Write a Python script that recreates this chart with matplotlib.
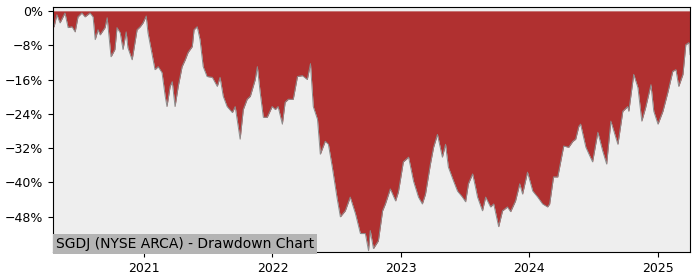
import pandas as pd
import matplotlib
matplotlib.use('Agg')
import matplotlib.pyplot as plt
import matplotlib.dates as mdates
from matplotlib.ticker import FuncFormatter

# drawdown (%)
dates = [
    '2020-04-17', '2020-04-20', '2020-04-28', '2020-05-07', '2020-05-21', '2020-05-30',
    '2020-06-10', '2020-06-19', '2020-06-27', '2020-07-08', '2020-07-17', '2020-07-31',
    '2020-08-09', '2020-08-15', '2020-08-23', '2020-08-29', '2020-09-12', '2020-09-18',
    '2020-09-29', '2020-10-10', '2020-10-16', '2020-10-25', '2020-11-02', '2020-11-11',
    '2020-11-16', '2020-11-28', '2020-12-12', '2020-12-21', '2020-12-29', '2021-01-07',
    '2021-01-12', '2021-01-24', '2021-02-01', '2021-02-10', '2021-02-21', '2021-03-02',
    '2021-03-07', '2021-03-16', '2021-03-22', '2021-03-30', '2021-04-08', '2021-04-19',
    '2021-04-28', '2021-05-06', '2021-05-18', '2021-05-23', '2021-06-01', '2021-06-09',
    '2021-06-18', '2021-06-29', '2021-07-14', '2021-07-28', '2021-08-05', '2021-08-14',
    '2021-08-25', '2021-09-09', '2021-09-17', '2021-10-01', '2021-10-10', '2021-10-21',
    '2021-10-30', '2021-11-13', '2021-11-19', '2021-11-27', '2021-12-06', '2021-12-17',
    '2021-12-31', '2022-01-09', '2022-01-17', '2022-01-29', '2022-02-06', '2022-02-15',
    '2022-03-01', '2022-03-13', '2022-03-27', '2022-04-10', '2022-04-19', '2022-04-27',
    '2022-05-09', '2022-05-17', '2022-05-31', '2022-06-09', '2022-06-20', '2022-07-04',
    '2022-07-13', '2022-07-27', '2022-08-10', '2022-08-25', '2022-09-08', '2022-09-22',
    '2022-10-01', '2022-10-06', '2022-10-15', '2022-10-29', '2022-11-10', '2022-11-18',
    '2022-12-02', '2022-12-17', '2022-12-25', '2023-01-08', '2023-01-23', '2023-02-06',
    '2023-02-20', '2023-03-03', '2023-03-12', '2023-03-26', '2023-04-04', '2023-04-15',
    '2023-04-29', '2023-05-08', '2023-05-16', '2023-05-31', '2023-06-11', '2023-06-25',
    '2023-07-04', '2023-07-12', '2023-07-24', '2023-08-01', '2023-08-07', '2023-08-21',
    '2023-08-30', '2023-09-13', '2023-09-22', '2023-10-06', '2023-10-17', '2023-10-31',
    '2023-11-09', '2023-11-23', '2023-12-05', '2023-12-13', '2023-12-27', '2024-01-11',
    '2024-01-25', '2024-02-08', '2024-02-22', '2024-02-28', '2024-03-10', '2024-03-22',
    '2024-04-08', '2024-04-22', '2024-05-04', '2024-05-12', '2024-05-21', '2024-05-26',
    '2024-06-10', '2024-06-29', '2024-07-14', '2024-07-28', '2024-08-08', '2024-08-20',
    '2024-09-09', '2024-09-23', '2024-10-07', '2024-10-10', '2024-10-24', '2024-11-05',
    '2024-11-16', '2024-11-27', '2024-12-12', '2024-12-20', '2025-01-01', '2025-01-15',
    '2025-01-29', '2025-02-12', '2025-02-21', '2025-03-01', '2025-03-13', '2025-03-21',
    '2025-03-30', '2025-04-02',
]
drawdown = [
    -3.7, -3.7, -0.9, -2.8, -0.5, -3.9,
    -3.7, -4.9, -1.4, -0.5, -1.4, -0.5,
    -1.4, -6.7, -4.4, -5.6, -3.9, -1.6,
    -10.7, -9.0, -3.9, -5.1, -9.0, -4.9,
    -8.6, -11.4, -4.4, -3.7, -2.8, -1.2,
    -5.1, -10.2, -13.7, -13.0, -14.4, -19.9,
    -22.3, -17.6, -16.5, -22.3, -17.6, -13.0,
    -11.4, -9.7, -8.3, -4.4, -3.7, -6.7,
    -13.0, -15.3, -15.5, -17.6, -15.5, -19.9,
    -22.3, -23.7, -22.3, -29.9, -23.0, -20.6,
    -19.9, -16.0, -13.0, -19.0, -24.8, -24.8,
    -22.3, -23.0, -22.3, -26.4, -21.3, -20.6,
    -20.6, -15.3, -15.1, -16.0, -12.3, -22.3,
    -25.3, -33.4, -30.4, -31.1, -36.4, -43.8,
    -48.0, -46.6, -43.4, -47.3, -51.9, -51.9,
    -55.9, -51.2, -55.4, -53.6, -46.6, -45.0,
    -41.5, -44.3, -42.2, -35.2, -34.1, -39.7,
    -43.4, -45.0, -42.7, -35.7, -31.8, -28.8,
    -34.1, -31.1, -36.4, -39.7, -42.0, -43.4,
    -44.5, -40.3, -38.0, -41.0, -43.4, -46.6,
    -43.4, -45.7, -45.0, -50.3, -46.6, -45.7,
    -46.8, -44.3, -40.3, -42.7, -37.6, -42.0,
    -43.4, -45.0, -45.7, -45.0, -38.7, -38.7,
    -31.5, -31.8, -30.4, -29.9, -26.9, -26.4,
    -31.8, -35.2, -28.3, -32.7, -35.7, -25.7,
    -31.1, -23.4, -22.3, -23.4, -14.8, -17.9,
    -25.7, -22.5, -17.2, -23.4, -26.4, -23.4,
    -19.0, -14.1, -13.7, -17.6, -14.8, -7.9,
    -7.4, -10.2,
]
y_ticks = [0, -8, -16, -24, -32, -40, -48]
title = 'SGDJ (NYSE ARCA) - Drawdown Chart'

x = pd.to_datetime(dates)

fig = plt.figure(figsize=(7, 2.8), dpi=100)
ax = fig.add_axes([0.0757, 0.1, 0.91, 0.875])
ax.set_facecolor('#eeeeee')

ax.fill_between(x, drawdown, 0, color='#b03030', linewidth=0)
ax.plot(x, drawdown, color='#8c8c8c', linewidth=0.7)

ax.set_xlim(x[0], x[-1])
ax.set_ylim(-56.2, 0.9)
ax.set_yticks(y_ticks)
ax.yaxis.set_major_formatter(FuncFormatter(lambda v, p: f'{v:.0f}%'.replace('-', '\u2212')))
ax.xaxis.set_major_locator(mdates.YearLocator())
ax.xaxis.set_major_formatter(mdates.DateFormatter('%Y'))
ax.tick_params(labelsize=9)

ax.text(0.005, 0.005, title, transform=ax.transAxes, fontsize=10, ha='left', va='bottom',
        bbox=dict(facecolor='#b4b4b4', edgecolor='none', pad=2))

plt.savefig('out.png')
